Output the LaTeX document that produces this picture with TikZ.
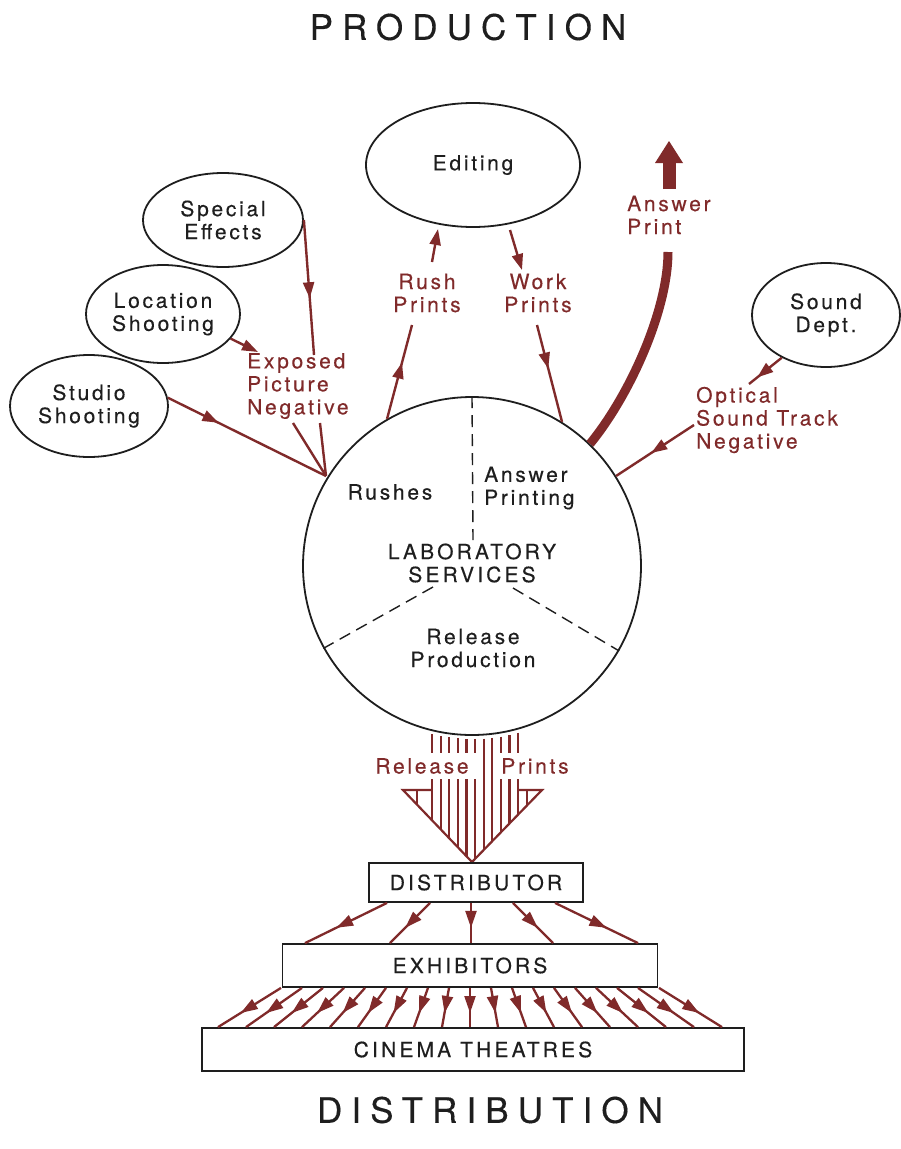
\documentclass[tikz,border=0pt]{standalone}
\usepackage{fontspec}
\setmainfont{TeX Gyre Heros}
\usetikzlibrary{shapes.geometric,arrows.meta,decorations.markings,calc}
\definecolor{pr}{RGB}{128,42,42}
\definecolor{ink}{RGB}{30,30,30}
\newcommand\lblf{\fontsize{21}{23}\selectfont\addfontfeatures{LetterSpace=13,FakeBold=0.3}}
\newcommand\capf{\fontsize{21}{23}\selectfont\addfontfeatures{LetterSpace=15,FakeBold=0.3}}
\newcommand\ttlf{\fontsize{35}{40}\selectfont\addfontfeatures{LetterSpace=26,FakeBold=0.3}}
\tikzset{
  oval/.style={ellipse, draw=ink, line width=1.8pt, inner sep=0pt, text=ink, font=\lblf, align=center},
  box/.style={rectangle, draw=ink, line width=1.8pt, inner sep=0pt, text=ink, font=\capf},
  blbl/.style={text=ink, font=\lblf, align=center, inner sep=0pt},
  caps/.style={text=ink, font=\capf, align=center, inner sep=0pt},
  rlbl/.style={text=pr, font=\lblf, align=center, inner sep=0pt},
  redln/.style={draw=pr, line width=2.4pt},
  thinred/.style={draw=pr, line width=2.3pt},
  endarr/.style={-{Triangle[length=16pt,width=11pt]}},
  midarr/.style={postaction={decorate}, decoration={markings, mark=at position #1 with {\arrow[pr]{Triangle[length=16pt,width=11pt]}}}},
  fanarr/.style={postaction={decorate}, decoration={markings, mark=at position #1 with {\arrow[pr]{Triangle[length=17pt,width=11pt]}}}},
  dashln/.style={draw=ink, line width=1.4pt, dash pattern=on 12pt off 7pt},
  hatch/.style={draw=pr, line width=2.2pt}
}
\begin{document}
\begin{tikzpicture}[x=1pt,y=-1pt]
\useasboundingbox (0,0) rectangle (901,1149);
\fill[white] (0,0) rectangle (901,1149);

% titles
\node[text=ink, font=\ttlf, inner sep=0pt] (prod) at (468,27) {PRODUCTION};
\node[text=ink, font=\ttlf, inner sep=0pt] (distr) at (490,1110) {DISTRIBUTION};

% ellipses
\node[oval, minimum width=214pt, minimum height=124pt] (edit) at (473,165) {Editing};
\node[oval, minimum width=160pt, minimum height=94pt] (spfx) at (223,220) {Special\\Effects};
\node[oval, minimum width=154pt, minimum height=98pt] (loc) at (163,314) {Location\\Shooting};
\node[oval, minimum width=158pt, minimum height=102pt] (stu) at (89,406) {Studio\\Shooting};
\node[oval, minimum width=148pt, minimum height=104pt] (snd) at (826,315) {Sound\\Dept.};

% laboratory circle
\node[circle, draw=ink, line width=1.8pt, minimum size=338pt, inner sep=0pt] (lab) at (472,566) {};
\node[blbl] (rush) at (390,492) {Rushes};
\node[blbl, align=left, anchor=west] (ansp) at (484,488) {Answer\\Printing};
\node[caps] (labt) at (472,563) {LABORATORY\\SERVICES};
\node[blbl] (relp) at (473,648) {Release\\Production};
\coordinate (dv) at (473,540);
\coordinate (dl) at (433,587);
\coordinate (dr) at (513,588);
\draw[dashln] (lab.90) -- (dv);
\draw[dashln] (dl) -- (lab.209);
\draw[dashln] (dr) -- (lab.-30);

% red labels
\node[rlbl, align=left, anchor=west] (expn) at (247,386) {Exposed\\Picture\\Negative};
\node[rlbl] (rushp) at (427,293) {Rush\\Prints};
\node[rlbl] (workp) at (538,293) {Work\\Prints};
\node[rlbl, align=left, anchor=west] (anspr) at (627,215) {Answer\\Print};
\node[rlbl, align=left, anchor=west] (opt) at (696,420) {Optical\\Sound Track\\Negative};

% exposed picture negative connectors
\coordinate (conv) at (326,476);
\coordinate (sfA) at (314,355);
\coordinate (sfB) at (320,423);
\coordinate (locA) at (258,352);
\coordinate (locB) at (293,423);
\draw[redln, midarr=0.58] (spfx.east) -- (sfA);
\draw[redln] (sfB) -- (conv);
\draw[redln, endarr, pr] (loc.-20) -- (locA);
\draw[redln] (locB) -- (conv);
\draw[redln, midarr=0.32] (stu.6) -- (conv);

% rush prints
\coordinate (rpA) at (412,325);
\coordinate (rpB) at (432,262);
\coordinate (rpC) at (438,229);
\draw[redln, midarr=0.6] (lab.120) -- (rpA);
\draw[redln, endarr, pr] (rpB) -- (rpC);

% work prints
\coordinate (wpA) at (510,230);
\coordinate (wpB) at (522,270);
\coordinate (wpC) at (537,325);
\draw[redln, endarr, pr] (wpA) -- (wpB);
\draw[redln, midarr=0.45] (wpC) -- (lab.58);

% answer print
\coordinate (apA) at (668,252);
\draw[pr, line width=9pt] (lab.46) .. controls (630,395) and (668,310) .. (apA);
\coordinate (ahA) at (669,189);
\coordinate (ahB) at (669,162);
\coordinate (ahL) at (655,163);
\coordinate (ahR) at (683,163);
\coordinate (ahT) at (669,141);
\draw[pr, line width=13pt] (ahA) -- (ahB);
\fill[pr] (ahL) -- (ahR) -- (ahT) -- cycle;

% sound
\coordinate (sdA) at (749,384);
\coordinate (opA) at (694,425);
\draw[redln, midarr=0.75] (snd.224) -- (sdA);
\draw[redln, midarr=0.55] (opA) -- (lab.32);

% release prints hatched arrow
\node[rlbl] (relL) at (422,766) {Release};
\node[rlbl] (relR) at (535,766) {Prints};
\coordinate (tL) at (403,790);
\coordinate (tR) at (542,790);
\coordinate (tip) at (472,862);
\coordinate (wL) at (432,790);
\coordinate (wR) at (518,790);
\draw[hatch, line join=miter] (wL) -- (tL) -- (tip) -- (tR) -- (wR);
\foreach \i in {0,...,10} {
  \pgfmathsetmacro\xx{432+8.6*\i}
  \pgfmathsetmacro\yc{566+169*sqrt(1-((\xx-472)/169)^2)+4}
  \pgfmathsetmacro\yt{862-1.04*abs(\xx-472)}
  \ifnum\i=6
    \draw[hatch] (\xx,\yc) -- (\xx,\yt);
  \else\ifnum\i=7
    \draw[hatch] (\xx,\yc) -- (\xx,\yt);
  \else
    \draw[hatch] (\xx,\yc) -- (\xx,753);
    \draw[hatch] (\xx,779) -- (\xx,\yt);
  \fi\fi
}
\foreach \xx in {417,527} {
  \pgfmathsetmacro\yt{862-1.04*abs(\xx-472)}
  \draw[hatch] (\xx,790) -- (\xx,\yt);
}

% distribution boxes
\node[box, minimum width=214pt, minimum height=39pt] (dist) at (476,882.5) {DISTRIBUTOR};
\node[box, minimum width=375pt, minimum height=43pt] (exh) at (470,965.5) {EXHIBITORS};
\node[box, minimum width=542pt, minimum height=43pt] (cin) at (473,1049.5) {CINEMA THEATRES};

\foreach \a/\b in {387/305, 430/390, 471/471, 513/553, 555/638} {
  \pgfmathsetmacro\da{\a-476}
  \pgfmathsetmacro\db{\b-470}
  \draw[thinred, fanarr=0.62] ([xshift=\da pt]dist.south) -- ([xshift=\db pt]exh.north);
}
\foreach \k in {-9,...,9} {
  \pgfmathsetmacro\sa{21*\k}
  \pgfmathsetmacro\sb{28*\k-3}
  \draw[thinred, fanarr=0.64] ([xshift=\sa pt]exh.south) -- ([xshift=\sb pt]cin.north);
}
\end{tikzpicture}
\end{document}
